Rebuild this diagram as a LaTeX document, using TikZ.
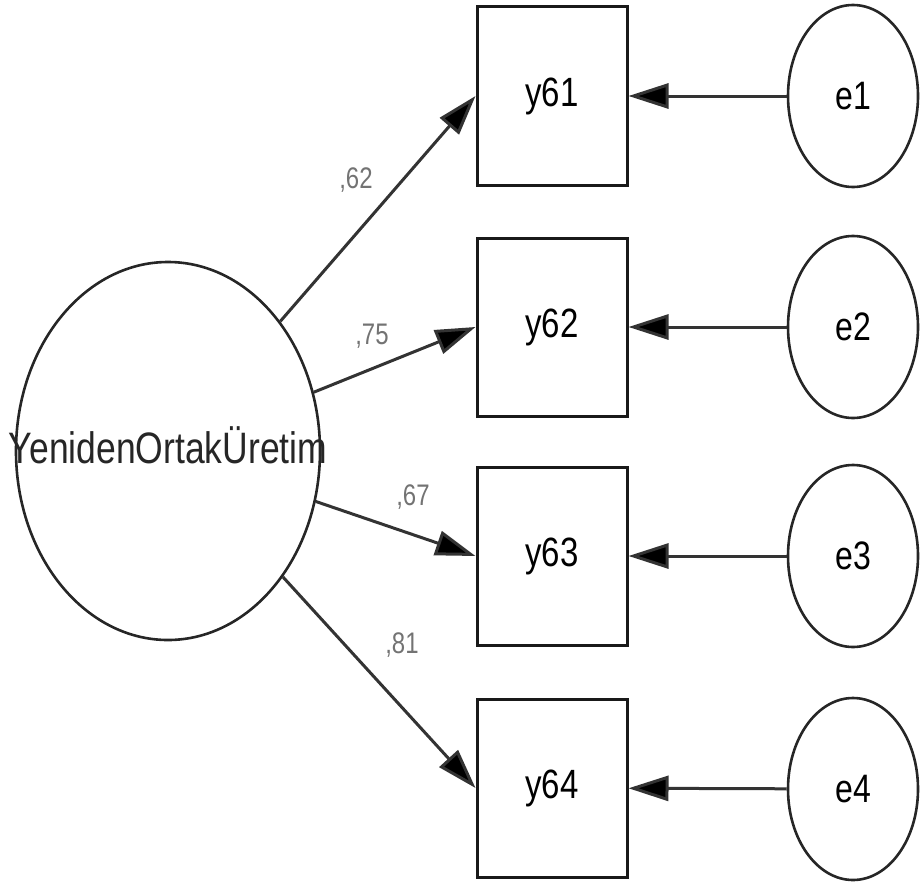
\documentclass[tikz,border=0pt]{standalone}
\usepackage{fontspec}
\setmainfont{Liberation Sans}
\usepackage{tikz}
\usetikzlibrary{arrows.meta,positioning,shapes.geometric}
\newcommand{\tall}[1]{\scalebox{1}[1.24]{#1}}
\tikzset{
  >={Triangle[length=40pt,width=25pt,fill=black]},
  latent/.style={ellipse, draw=black!85, line width=2.6pt, inner sep=0pt},
  observed/.style={rectangle, draw=black!90, line width=3pt, minimum width=150pt,
                   minimum height=178pt, inner sep=0pt, font=\fontsize{33}{33}\selectfont},
  errvar/.style={latent, minimum width=130pt, minimum height=182pt,
                 font=\fontsize{32}{32}\selectfont},
  path/.style={draw=black!80, line width=3pt, ->},
  weight/.style={text=black!55, font=\fontsize{24}{24}\selectfont, inner sep=0pt}
}

\begin{document}
\begin{tikzpicture}[x=1pt,y=-1pt]
  \useasboundingbox (0,0) rectangle (920,883);

  % Latent factor.
  \node[latent, minimum width=304pt, minimum height=378pt] (yor) at (168,451) {};
  \node[font=\fontsize{35.5}{35}\selectfont, inner sep=0pt, text=black!85] (yortxt) at (168,445)
    {\tall{YenidenOrtakÜretim}};

  % Observed items.
  \node[observed] (y61) at (552,96)  {\tall{y61}};
  \node[observed] (y62) at (552,327) {\tall{y62}};
  \node[observed] (y63) at (552,556) {\tall{y63}};
  \node[observed] (y64) at (552,788) {\tall{y64}};

  % Error terms.
  \node[errvar] (e1) at (853,96)  {\tall{e1}};
  \node[errvar] (e2) at (853,327) {\tall{e2}};
  \node[errvar] (e3) at (853,556) {\tall{e3}};
  \node[errvar] (e4) at (853,789) {\tall{e4}};

  % Loadings.
  \draw[path] (yor) -- (y61.west);
  \draw[path] (yor) -- (y62.west);
  \draw[path] (yor) -- (y63.west);
  \draw[path] (yor) -- (y64.west);
  \node[weight] (w61) at (356,180) {\tall{,62}};
  \node[weight] (w62) at (372,336) {\tall{,75}};
  \node[weight] (w63) at (413,497) {\tall{,67}};
  \node[weight] (w64) at (402,645) {\tall{,81}};

  % Errors to items.
  \foreach \i in {1,...,4}
    \draw[path] (e\i) -- (y6\i);
\end{tikzpicture}
\end{document}
